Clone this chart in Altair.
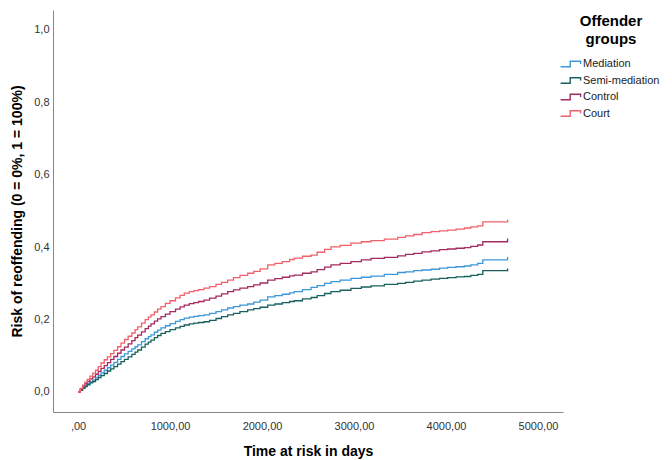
import altair as alt
import pandas as pd

groups = ["Mediation", "Semi-mediation", "Control", "Court"]
colors = ["#3c97d8", "#17605e", "#a32b5e", "#f2616b"]

times = [0, 25, 50, 75, 100, 130, 160, 190, 220, 250,
         285, 320, 355, 390, 430, 467, 505, 545, 585, 620,
         649, 690, 730, 765, 793, 830, 865, 902, 950, 1000,
         1060, 1110, 1155, 1210, 1260, 1310, 1370, 1430, 1500, 1560,
         1627, 1690, 1760, 1844, 1910, 1980, 2062, 2140, 2220, 2300,
         2350, 2440, 2533, 2600, 2680, 2750, 2850, 2967, 3080, 3185,
         3330, 3475, 3560, 3650, 3740, 3837, 3930, 4018, 4110, 4200,
         4270, 4345, 4400, 4668, 4670]

court = [0, 0.01, 0.019, 0.027, 0.035, 0.044, 0.052, 0.06, 0.07, 0.08,
         0.089, 0.097, 0.106, 0.115, 0.125, 0.135, 0.145, 0.154, 0.163, 0.172,
         0.18, 0.19, 0.2, 0.207, 0.213, 0.221, 0.229, 0.236, 0.245, 0.252,
         0.26, 0.267, 0.273, 0.277, 0.28, 0.283, 0.287, 0.291, 0.297, 0.303,
         0.309, 0.316, 0.322, 0.328, 0.333, 0.34, 0.351, 0.355, 0.36, 0.366,
         0.37, 0.375, 0.378, 0.386, 0.394, 0.401, 0.405, 0.411, 0.415, 0.418,
         0.422, 0.427, 0.431, 0.435, 0.44, 0.443, 0.445, 0.447, 0.45, 0.453,
         0.456, 0.459, 0.47, 0.47, 0.476]
control = [0, 0.008, 0.016, 0.023, 0.029, 0.036, 0.042, 0.049, 0.057, 0.065,
           0.073, 0.081, 0.09, 0.098, 0.107, 0.116, 0.124, 0.133, 0.142, 0.15,
           0.157, 0.166, 0.175, 0.182, 0.188, 0.196, 0.202, 0.208, 0.215, 0.222,
           0.229, 0.235, 0.24, 0.244, 0.247, 0.25, 0.254, 0.259, 0.265, 0.271,
           0.277, 0.282, 0.287, 0.291, 0.296, 0.301, 0.309, 0.313, 0.317, 0.321,
           0.323, 0.328, 0.332, 0.338, 0.345, 0.351, 0.355, 0.36, 0.365, 0.369,
           0.372, 0.376, 0.38, 0.383, 0.387, 0.39, 0.393, 0.395, 0.397, 0.399,
           0.402, 0.406, 0.415, 0.418, 0.424]
mediation = [0, 0.006, 0.012, 0.018, 0.023, 0.028, 0.033, 0.039, 0.046, 0.053,
             0.06, 0.067, 0.074, 0.082, 0.09, 0.098, 0.105, 0.112, 0.119, 0.125,
             0.13, 0.139, 0.147, 0.153, 0.158, 0.165, 0.171, 0.177, 0.183, 0.189,
             0.195, 0.2, 0.204, 0.207, 0.209, 0.211, 0.213, 0.217, 0.222, 0.227,
             0.232, 0.236, 0.24, 0.243, 0.248, 0.254, 0.263, 0.266, 0.27, 0.274,
             0.277, 0.283, 0.289, 0.294, 0.3, 0.305, 0.309, 0.314, 0.317, 0.32,
             0.325, 0.33, 0.332, 0.335, 0.337, 0.339, 0.342, 0.344, 0.346, 0.348,
             0.351, 0.355, 0.365, 0.367, 0.373]
semi = [0, 0.005, 0.01, 0.015, 0.02, 0.025, 0.029, 0.034, 0.04, 0.045,
        0.051, 0.058, 0.064, 0.07, 0.077, 0.084, 0.09, 0.097, 0.104, 0.11,
        0.116, 0.124, 0.132, 0.138, 0.143, 0.15, 0.156, 0.162, 0.167, 0.172,
        0.177, 0.181, 0.185, 0.188, 0.19, 0.192, 0.194, 0.198, 0.203, 0.208,
        0.213, 0.217, 0.222, 0.227, 0.23, 0.234, 0.24, 0.243, 0.247, 0.25,
        0.252, 0.257, 0.261, 0.266, 0.272, 0.277, 0.281, 0.286, 0.29, 0.293,
        0.297, 0.3, 0.303, 0.306, 0.309, 0.312, 0.314, 0.316, 0.318, 0.319,
        0.322, 0.325, 0.335, 0.335, 0.341]

x_ticks = [0, 1000, 2000, 3000, 4000, 5000]
y_ticks = [0.0, 0.2, 0.4, 0.6, 0.8, 1.0]

series = {"Mediation": mediation, "Semi-mediation": semi, "Control": control, "Court": court}
rows = []
for g, vals in series.items():
    for t, v in zip(times, vals):
        rows.append({"time": t, "risk": v, "group": g})
df = pd.DataFrame(rows)

FONT = "Liberation Sans"
step_icon = "M-1.3,0.35 L-0.1,0.35 L-0.1,-0.35 L1.2,-0.35 L1.2,0"

chart = alt.Chart(df).mark_line(interpolate="step-after", strokeWidth=1.3).encode(
    x=alt.X("time:Q",
            scale=alt.Scale(domain=[-272, 5272], nice=False, zero=False),
            axis=alt.Axis(values=x_ticks, title="Time at risk in days", grid=False, ticks=False,
                          domainColor="#888888", labelColor="#333333", labelFont=FONT,
                          labelFontSize=11, labelPadding=8,
                          labelExpr="datum.value == 0 ? ',00' : datum.value + ',00'",
                          titleFont=FONT, titleFontSize=14, titleFontWeight="bold",
                          titleColor="#000000", titlePadding=13)),
    y=alt.Y("risk:Q",
            scale=alt.Scale(domain=[-0.0553, 1.0552], nice=False, zero=False),
            axis=alt.Axis(values=y_ticks, title="Risk of reoffending (0 = 0%, 1 = 100%)",
                          grid=False, ticks=False, domainColor="#888888",
                          labelColor="#333333", labelFont=FONT, labelFontSize=11,
                          labelPadding=4,
                          labelExpr="replace(format(datum.value, '.1f'), '.', ',')",
                          titleFont=FONT, titleFontSize=14, titleFontWeight="bold",
                          titleColor="#000000", titlePadding=9)),
    color=alt.Color("group:N",
                    scale=alt.Scale(domain=groups, range=colors),
                    legend=alt.Legend(title=["Offender", "groups"], orient="none",
                                      legendX=509, legendY=4,
                                      titleFont=FONT, titleFontSize=15, titleFontWeight="bold",
                                      titleColor="#000000", titleAnchor="middle",
                                      titleAlign="center", titleLineHeight=18,
                                      titlePadding=8,
                                      labelFont=FONT, labelFontSize=11, labelColor="#222222",
                                      symbolType=step_icon, symbolSize=256,
                                      symbolStrokeWidth=1.4, symbolFillColor="transparent",
                                      symbolOffset=0, labelOffset=3, rowPadding=1.5)),
).properties(
    width=510, height=402,
    autosize=alt.AutoSizeParams(type="none"),
    padding={"left": 45, "top": 2, "right": 101, "bottom": 54},
).configure_view(stroke=None)

chart.save("out.html", embed_options={"renderer": "svg", "actions": False})
